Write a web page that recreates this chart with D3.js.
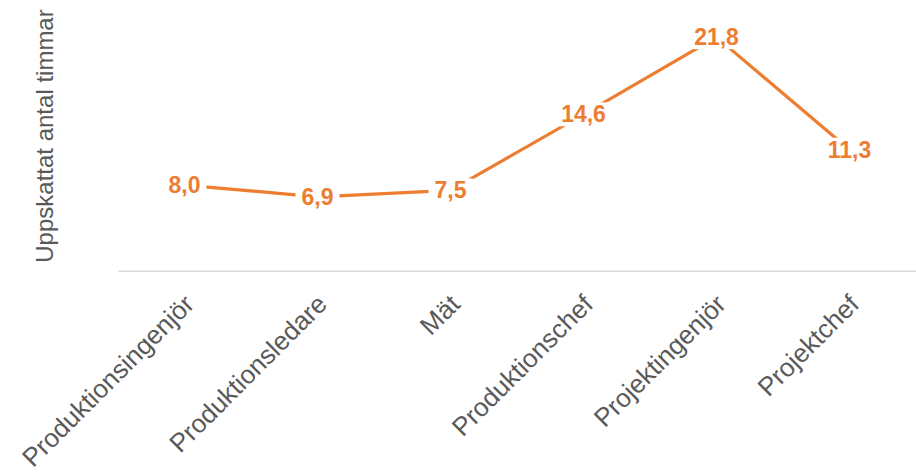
<!DOCTYPE html>
<html>
<head>
<meta charset="utf-8">
<script src="https://cdn.jsdelivr.net/npm/d3@7"></script>
<style>
  html, body { margin: 0; padding: 0; background: #fff; }
  svg { display: block; }
</style>
</head>
<body>
<svg id="chart" width="916" height="475"></svg>
<script>
// Estimated hours per role
const categories = ["Produktionsingenjör", "Produktionsledare", "Mät", "Produktionschef", "Projektingenjör", "Projektchef"];
const hours = [8.0, 6.9, 7.5, 14.6, 21.8, 11.3];
const yDomain = [0, 25];
const yTitle = "Uppskattat antal timmar";

const fmt = v => d3.format(".1f")(v).replace(".", ",");

const svg = d3.select("#chart");
const font = "'Liberation Sans', Arial, sans-serif";
const orange = "#ED7D31";
const grey = "#595959";

const x = d3.scaleBand().domain(categories).range([118, 916]);
const y = d3.scaleLinear().domain(yDomain).range([270.8, 2.8]);
const cx = d => x(d) + x.bandwidth() / 2;

// Category axis
const xAxis = d3.axisBottom(x).tickSize(0).tickPadding(0);
const gx = svg.append("g").attr("transform", `translate(0,${y(0)})`).call(xAxis);
gx.select(".domain").attr("stroke", "#d9d9d9").attr("stroke-width", 1.5);
gx.selectAll(".tick text")
  .attr("font-family", font)
  .attr("font-size", 26)
  .attr("fill", grey)
  .attr("text-anchor", "end")
  .attr("dy", 0)
  .attr("y", 0)
  .attr("transform", "translate(11,35) rotate(-45)");

// Axis title
svg.append("text")
  .attr("transform", `translate(53,136) rotate(-90)`)
  .attr("text-anchor", "middle")
  .attr("font-family", font)
  .attr("font-size", 24)
  .attr("fill", grey)
  .text(yTitle);

// Line
const line = d3.line().x((d, i) => cx(categories[i])).y(d => y(d));
svg.append("path")
  .datum(hours)
  .attr("d", line)
  .attr("fill", "none")
  .attr("stroke", orange)
  .attr("stroke-width", 3.2)
  .attr("stroke-linejoin", "round");

// Value labels with white backing
const labels = svg.append("g").selectAll("g")
  .data(hours)
  .join("g")
  .attr("transform", (d, i) => `translate(${cx(categories[i])},${y(d)})`);

labels.append("rect").attr("fill", "#fff");
labels.append("text")
  .attr("text-anchor", "middle")
  .attr("dy", "0.35em")
  .attr("font-family", font)
  .attr("font-size", 23)
  .attr("font-weight", "bold")
  .attr("fill", orange)
  .text(d => fmt(d));

labels.each(function () {
  const g = d3.select(this);
  const bb = g.select("text").node().getBBox();
  g.select("rect")
    .attr("x", bb.x - 6)
    .attr("y", bb.y + 1)
    .attr("width", bb.width + 12)
    .attr("height", bb.height - 2);
});
</script>
</body>
</html>
